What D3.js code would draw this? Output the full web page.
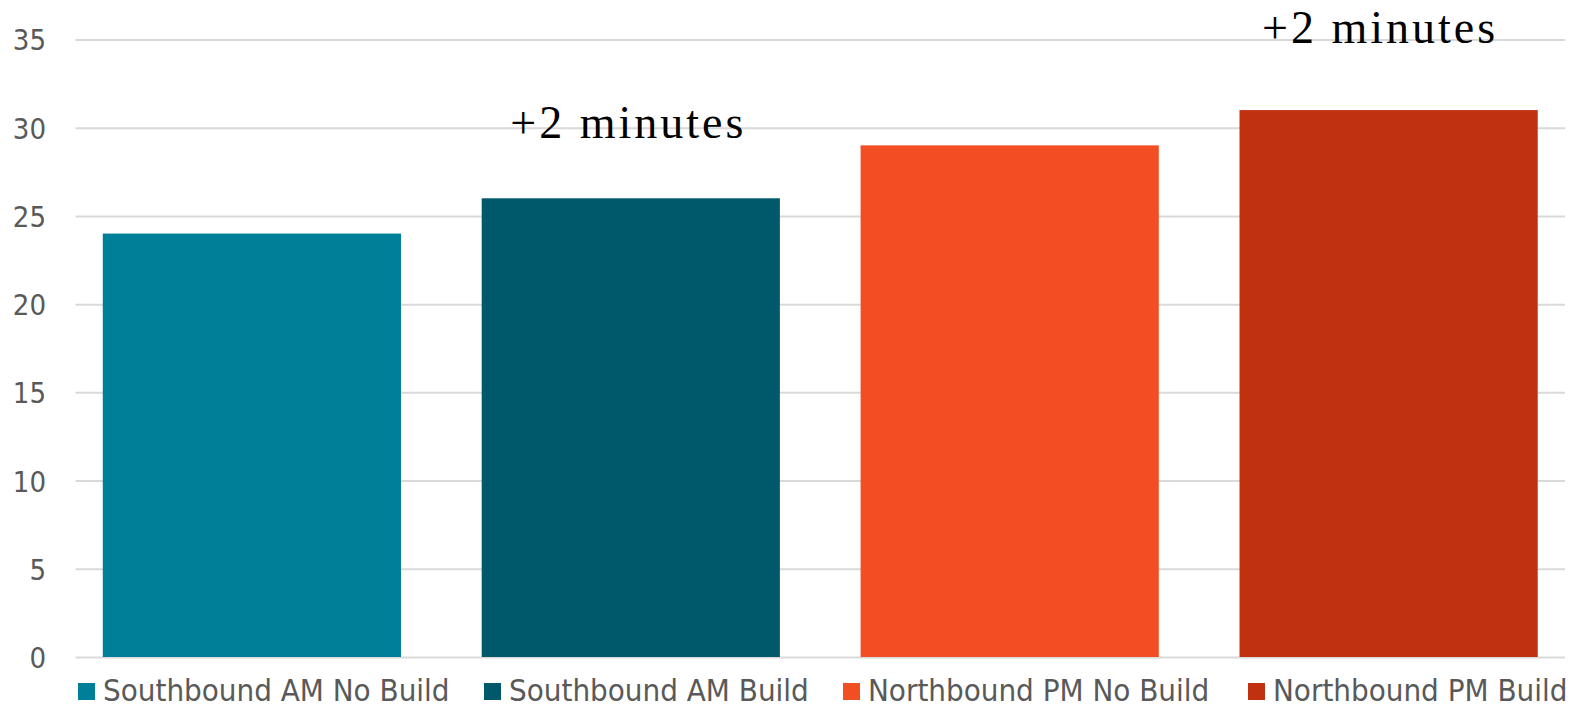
<!DOCTYPE html>
<html>
<head>
<meta charset="utf-8">
<script src="https://cdn.jsdelivr.net/npm/d3@7"></script>
<style>
  body { margin: 0; background: #fff; overflow: hidden; }
  svg { display: block; }
</style>
</head>
<body>
<div id="chart"></div>
<script>
// chart values
const categories = ['Southbound AM No Build', 'Southbound AM Build', 'Northbound PM No Build', 'Northbound PM Build'];
const minutes = [24, 26, 29, 31];
const colors = ['#007f99', '#00596a', '#f14e24', '#c0310f'];
const yTicks = [0, 5, 10, 15, 20, 25, 30, 35];
const notes = [
  { cat: 'Southbound AM Build', text: '+2 minutes' },
  { cat: 'Northbound PM Build', text: '+2 minutes' }
];

const width = 1581;
const height = 704;
const margin = { top: 39.5, right: 16, bottom: 47, left: 75.5 };

const svg = d3.select('#chart')
  .append('svg')
  .attr('width', width)
  .attr('height', height);

const xScale = d3.scaleBand()
  .domain(categories)
  .range([margin.left, width - margin.right])
  .paddingInner(0.213)
  .paddingOuter(0.072);

const yScale = d3.scaleLinear()
  .domain([0, 35])
  .range([height - margin.bottom, margin.top]);

// gridlines
const grid = svg.append('g')
  .attr('transform', `translate(${margin.left}, 0)`)
  .call(d3.axisLeft(yScale).tickValues(yTicks).tickFormat('').tickSize(-(width - margin.left - margin.right)));
grid.select('.domain').remove();
grid.selectAll('line').attr('stroke', '#d9d9d9').attr('stroke-width', 2);

// y axis labels
const yAxis = svg.append('g')
  .attr('transform', `translate(46, 0)`)
  .call(d3.axisLeft(yScale).tickValues(yTicks).tickSize(0).tickPadding(0));
yAxis.select('.domain').remove();
yAxis.selectAll('text')
  .attr('font-family', '"DejaVu Sans Condensed", "DejaVu Sans", sans-serif')
  .attr('font-size', 29)
  .attr('fill', '#595959')
  .attr('dy', '0.36em');

// bars
svg.append('g')
  .selectAll('rect')
  .data(categories)
  .join('rect')
  .attr('x', (d) => xScale(d))
  .attr('width', xScale.bandwidth())
  .attr('y', (d, i) => yScale(minutes[i]))
  .attr('height', (d, i) => yScale(0) - yScale(minutes[i]))
  .attr('fill', (d, i) => colors[i]);

// annotations
const noteOffsets = [60, 67];
svg.append('g')
  .selectAll('text')
  .data(notes)
  .join('text')
  .attr('x', (d) => xScale(d.cat) + xScale.bandwidth() / 2 - (d.cat === categories[3] ? 10 : 4))
  .attr('y', (d, i) => yScale(minutes[categories.indexOf(d.cat)]) - noteOffsets[i])
  .attr('text-anchor', 'middle')
  .attr('font-family', '"Liberation Serif", "Times New Roman", serif')
  .attr('font-size', 46)
  .attr('fill', '#000')
  .attr('textLength', 233)
  .attr('lengthAdjust', 'spacing')
  .text((d) => d.text);

// legend
const legendX = [78, 484, 843, 1248];
const legend = svg.append('g')
  .selectAll('g')
  .data(categories)
  .join('g')
  .attr('transform', (d, i) => `translate(${legendX[i]}, 683)`);

legend.append('rect')
  .attr('width', 17)
  .attr('height', 17)
  .attr('fill', (d, i) => colors[i]);

legend.append('text')
  .attr('x', 25)
  .attr('y', 18)
  .attr('font-family', '"DejaVu Sans Condensed", "DejaVu Sans", sans-serif')
  .attr('font-size', 31)
  .attr('fill', '#595959')
  .text((d) => d);
</script>
</body>
</html>
